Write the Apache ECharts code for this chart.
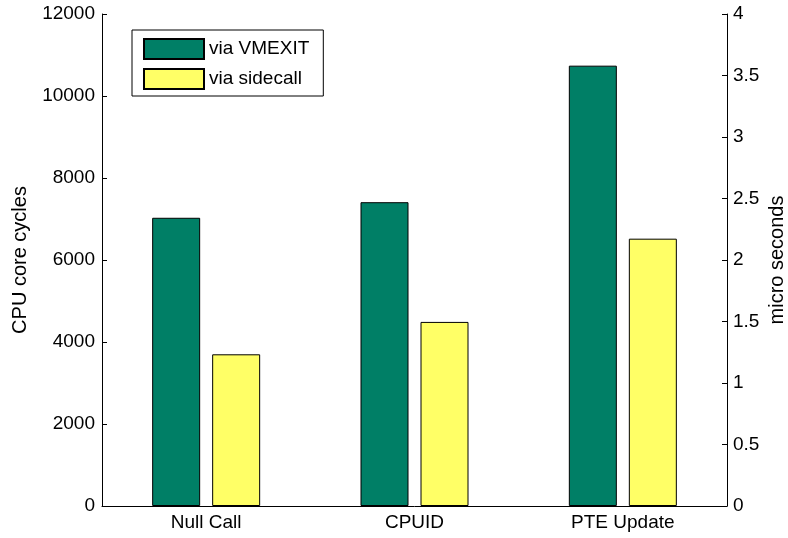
<!DOCTYPE html>
<html>
<head>
<meta charset="utf-8">
<script src="https://cdn.jsdelivr.net/npm/echarts@6/dist/echarts.min.js"></script>
<style>html,body{margin:0;padding:0;background:#fff}#c{width:788px;height:538px}</style>
</head>
<body>
<div id="c"></div>
<script>
var categories = ['Null Call', 'CPUID', 'PTE Update'];
var viaVmexit = [7030, 7410, 10740];
var viaSidecall = [3700, 4490, 6520];
var leftTicks = {min: 0, max: 12000, interval: 2000};
var rightTicks = {min: 0, max: 4, interval: 0.5};

var font = 'Liberation Sans, Arial, sans-serif';
var chart = echarts.init(document.getElementById('c'), null, {renderer: 'canvas'});
chart.setOption({
  animation: false,
  backgroundColor: '#fff',
  textStyle: {fontFamily: font, color: '#000'},
  grid: {left: 102, right: 61, top: 14, bottom: 32, containLabel: false, outerBoundsMode: 'none'},
  legend: {
    left: 132, top: 30, orient: 'vertical',
    icon: 'rect',
    itemWidth: 60, itemHeight: 20, itemGap: 8,
    padding: [8, 14, 6, 11],
    borderColor: '#000', borderWidth: 1, backgroundColor: '#fff',
    textStyle: {fontFamily: font, fontSize: 19, lineHeight: 20, color: '#000', padding: [0, 0, 0, 0]},
    data: ['via VMEXIT', 'via sidecall']
  },
  xAxis: {
    type: 'category', data: categories,
    axisLine: {lineStyle: {color: '#000', width: 1}},
    axisTick: {inside: true, length: 5, alignWithLabel: true, lineStyle: {color: '#000'}},
    axisLabel: {fontFamily: font, fontSize: 19, color: '#000', margin: 7},
    splitLine: {show: false}
  },
  yAxis: [{
    type: 'value', min: leftTicks.min, max: leftTicks.max, interval: leftTicks.interval,
    name: 'CPU core cycles', nameLocation: 'middle', nameGap: 72, nameRotate: 90, nameMoveOverlap: false,
    nameTextStyle: {fontFamily: font, fontSize: 20, color: '#000'},
    axisLine: {show: true, lineStyle: {color: '#000'}},
    axisTick: {show: true, inside: true, length: 5, lineStyle: {color: '#000'}},
    axisLabel: {fontFamily: font, fontSize: 19, color: '#000', margin: 7, formatter: function (v) { return String(v); }},
    splitLine: {show: false}
  }, {
    type: 'value', min: rightTicks.min, max: rightTicks.max, interval: rightTicks.interval,
    position: 'right',
    name: 'micro seconds', nameLocation: 'middle', nameGap: 40, nameRotate: 90, nameMoveOverlap: false,
    nameTextStyle: {fontFamily: font, fontSize: 20, color: '#000'},
    axisLine: {show: true, lineStyle: {color: '#000'}},
    axisTick: {show: true, inside: true, length: 5, lineStyle: {color: '#000'}},
    axisLabel: {fontFamily: font, fontSize: 19, color: '#000', margin: 6, formatter: function (v) { return String(v); }},
    splitLine: {show: false}
  }],
  series: [{
    name: 'via VMEXIT', type: 'bar', data: viaVmexit, yAxisIndex: 0,
    barWidth: 48, barGap: '25%',
    itemStyle: {color: '#007f66', borderColor: '#000', borderWidth: 1}
  }, {
    name: 'via sidecall', type: 'bar', data: viaSidecall, yAxisIndex: 0,
    barWidth: 48, barGap: '25%',
    itemStyle: {color: '#ffff66', borderColor: '#000', borderWidth: 1}
  }]
});
</script>
</body>
</html>
